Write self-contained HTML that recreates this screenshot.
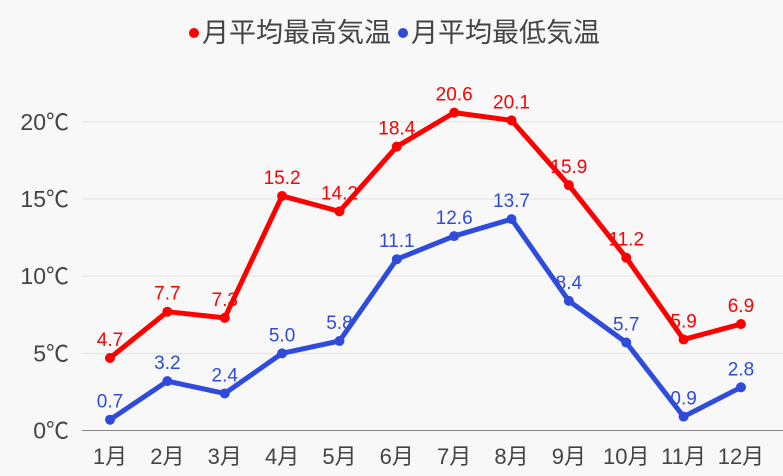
<!DOCTYPE html>
<html><head><meta charset="utf-8"><style>
html,body{margin:0;padding:0;background:#f8f8f8;}
svg{display:block;font-family:"Liberation Sans","Noto Sans CJK JP",sans-serif;}
</style></head><body>
<svg width="783" height="476" xmlns="http://www.w3.org/2000/svg">
<rect width="783" height="476" fill="#f8f8f8"/>
<g id="g"></g>
</svg>
<script>
const hi=[4.7,7.7,7.3,15.2,14.2,18.4,20.6,20.1,15.9,11.2,5.9,6.9];
const lo=[0.7,3.2,2.4,5.0,5.8,11.1,12.6,13.7,8.4,5.7,0.9,2.8];
const X=i=>110+i*57.36, Y=v=>430.5-v*15.43;
let s='';
for(let k=1;k<=4;k++){const y=Y(k*5);s+=`<line x1="82" x2="783" y1="${y}" y2="${y}" stroke="#e2e2e2" stroke-width="1"/>`;}
s+=`<line x1="82" x2="783" y1="430.5" y2="430.5" stroke="#888" stroke-width="1"/>`;
for(let k=0;k<=4;k++){s+=`<text x="69" y="${Y(k*5)+8}" text-anchor="end" font-size="23" fill="#444">${k*5}℃</text>`;}
for(let i=0;i<12;i++){s+=`<text x="${X(i)}" y="464" text-anchor="middle" font-size="22" fill="#444">${i+1}月</text>`;}
function ser(d,c){let p=d.map((v,i)=>X(i)+','+Y(v)).join(' ');
 let r=`<polyline points="${p}" fill="none" stroke="${c}" stroke-width="5" stroke-linejoin="round"/>`;
 d.forEach((v,i)=>{r+=`<circle cx="${X(i)}" cy="${Y(v)}" r="5" fill="${c}"/><text x="${X(i)}" y="${Y(v)-12}" text-anchor="middle" font-size="19" fill="${c}">${v.toFixed(1)}</text>`;});return r;}
s+=ser(hi,'#ff0000');s+=ser(lo,'#2f4bdc');
s+=`<circle cx="194" cy="33" r="5" fill="#ff0000"/><text x="202" y="42" font-size="27" fill="#444">月平均最高気温</text>`;
s+=`<circle cx="403" cy="33" r="5" fill="#2f4bdc"/><text x="411" y="42" font-size="27" fill="#444">月平均最低気温</text>`;
document.getElementById('g').innerHTML=s;
</script>
</body></html>
